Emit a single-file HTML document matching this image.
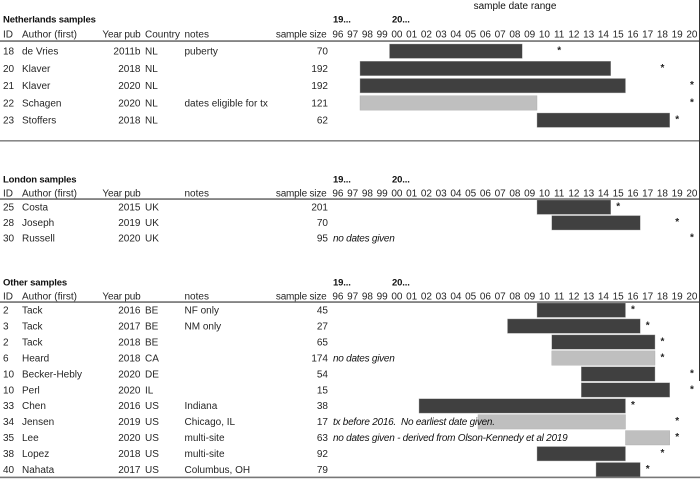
<!DOCTYPE html>
<html lang="en">
<head>
<meta charset="utf-8">
<title>Sample date range chart</title>
<style>
html,body{margin:0;padding:0;background:#fff;width:700px;height:479px;overflow:hidden}
svg{display:block}
text{font-family:"Liberation Sans",sans-serif;font-size:10px;fill:#262626}
.b{font-weight:bold;fill:#111;font-size:9.5px;letter-spacing:-.15px}
.i{font-style:italic;fill:#111;letter-spacing:-.25px;white-space:pre}
.h{letter-spacing:-.2px}
.m{font-weight:bold;fill:#222}
</style>
</head>
<body>
<svg id="chart" width="700" height="479" viewBox="0 0 700 479" xmlns="http://www.w3.org/2000/svg"></svg>
<script>
const tickLabels = ['96','97','98','99','00','01','02','03','04','05','06','07','08','09','10','11','12','13','14','15','16','17','18','19','20'];
const sectionTitles = ['Netherlands samples','London samples','Other samples'];
const sectionCounts = [5,3,12];
const ids = ['18','20','21','22','23','25','28','30','2','3','2','6','10','10','33','34','35','38','40'];
const authors = ['de Vries','Klaver','Klaver','Schagen','Stoffers','Costa','Joseph','Russell','Tack','Tack','Tack','Heard','Becker-Hebly','Perl','Chen','Jensen','Lee','Lopez','Nahata'];
const pubLabels = ['2011b','2018','2020','2020','2018','2015','2019','2020','2016','2017','2018','2018','2020','2020','2016','2019','2020','2018','2017'];
const countries = ['NL','NL','NL','NL','NL','UK','UK','UK','BE','BE','BE','CA','DE','IL','US','US','US','US','US'];
const notes = ['puberty','','','dates eligible for tx','','','','','NF only','NM only','','','','','Indiana','Chicago, IL','multi-site','multi-site','Columbus, OH'];
const sampleSizes = [70,192,192,121,62,201,70,95,45,27,65,174,54,15,38,17,63,92,79];
const rangeStart = [2000,1998,1998,1998,2010,2010,2011,null,2010,2008,2011,2011,2013,2013,2002,2006,2016,2010,2014];
const rangeEnd = [2009,2015,2016,2010,2019,2015,2017,null,2016,2017,2018,2018,2018,2019,2016,2016,2019,2016,2017];
const rangeKinds = ['d','d','d','g','d','d','d','','d','d','d','g','d','d','d','g','g','d','d'];
const markerYears = [2011,2018,2020,2020,2019,2015,2019,2020,2016,2017,2018,2018,2020,2020,2016,2019,2019,2018,2017];
const rangeNotes = ['','','','','','','','no dates given','','','','no dates given','','','','tx before 2016.  No earliest date given.','no dates given - derived from Olson-Kennedy et al 2019','',''];

const NS = 'http://www.w3.org/2000/svg';
const svg = document.getElementById('chart');
const layout = [
  {title:19, head:34, rule:41, first:51, pitch:17.25},
  {title:179, head:193, rule:199, first:207, pitch:15.6},
  {title:282, head:296, rule:302, first:310, pitch:15.95}
];
function xScale(year){ return 330.5 + (year - 1996) * 14.75; }
function txt(name, s, x, y, cls, anchor){
  const el = document.createElementNS(NS, 'text');
  
  
  el.setAttribute('x', x);
  el.setAttribute('y', y + 3.5);
  if (cls) el.setAttribute('class', cls);
  if (anchor) el.setAttribute('text-anchor', anchor);
  el.textContent = s;
  svg.appendChild(el);
  return el;
}
function rule(name, y, h, color){
  const el = document.createElementNS(NS, 'rect');
  
  
  el.setAttribute('x', 0);
  el.setAttribute('y', y);
  el.setAttribute('width', 700);
  el.setAttribute('height', h);
  el.setAttribute('fill', color);
  svg.appendChild(el);
}
const chartTitle = txt('chart-title', 'sample date range', 515, 5.5, '', 'middle');
chartTitle.setAttribute('style', 'fill:#111');

let start = 0;
sectionTitles.forEach(function(title, s){
  const L = layout[s];
  txt('section-title', title, 3, L.title, 'b');
  txt('group-label-1900s', '19...', 333, L.title, 'b');
  txt('group-label-2000s', '20...', 392, L.title, 'b');
  txt('column-header-id', 'ID', 3, L.head);
  txt('column-header-author', 'Author (first)', 22, L.head);
  txt('column-header-year', 'Year pub', 140.5, L.head, 'h', 'end');
  if (s === 0) txt('column-header-country', 'Country', 145, L.head);
  txt('column-header-notes', 'notes', 184.5, L.head);
  txt('column-header-sample-size', 'sample size', 326.5, L.head, 'h', 'end');
  tickLabels.forEach(function(t, k){
    txt('year-tick-label', t, xScale(1996 + k) + 7.4, L.head, '', 'middle');
  });
  rule('header-rule', L.rule - 0.7, 1.5, '#666');
  for (let r = 0; r < sectionCounts[s]; r++){
    const i = start + r;
    const y = L.first + r * L.pitch;
    txt('row-id', ids[i], 3, y);
    txt('row-author', authors[i], 22, y);
    txt('row-year', pubLabels[i], 140.5, y, '', 'end');
    txt('row-country', countries[i], 145, y);
    if (notes[i]) txt('row-note', notes[i], 184.5, y);
    txt('row-sample-size', String(sampleSizes[i]), 328, y, '', 'end');
    if (rangeStart[i] !== null){
      const bar = document.createElementNS(NS, 'rect');
      
      
      bar.setAttribute('x', xScale(rangeStart[i]));
      bar.setAttribute('y', y - 7);
      bar.setAttribute('width', xScale(rangeEnd[i]) - xScale(rangeStart[i]));
      bar.setAttribute('height', 14.4);
      bar.setAttribute('fill', rangeKinds[i] === 'd' ? '#404040' : '#bfbfbf');
      bar.setAttribute('stroke', '#aaa');
      bar.setAttribute('stroke-width', '0.4');
      svg.appendChild(bar);
    }
    if (rangeNotes[i]) txt('range-note', rangeNotes[i], 333, y, 'i');
    txt('publication-year-marker', '*', xScale(markerYears[i]) + 7.4, y - 1, 'm', 'middle');
  }
  start += sectionCounts[s];
});
rule('netherlands-bottom-rule', 140, 1.6, '#888');
rule('table-bottom-rule', 476.6, 1.6, '#777');
const border = document.createElementNS(NS, 'rect');


border.setAttribute('x', 699);
border.setAttribute('y', 0);
border.setAttribute('width', 1);
border.setAttribute('height', 381);
border.setAttribute('fill', '#333');
svg.appendChild(border);
</script>
</body>
</html>
